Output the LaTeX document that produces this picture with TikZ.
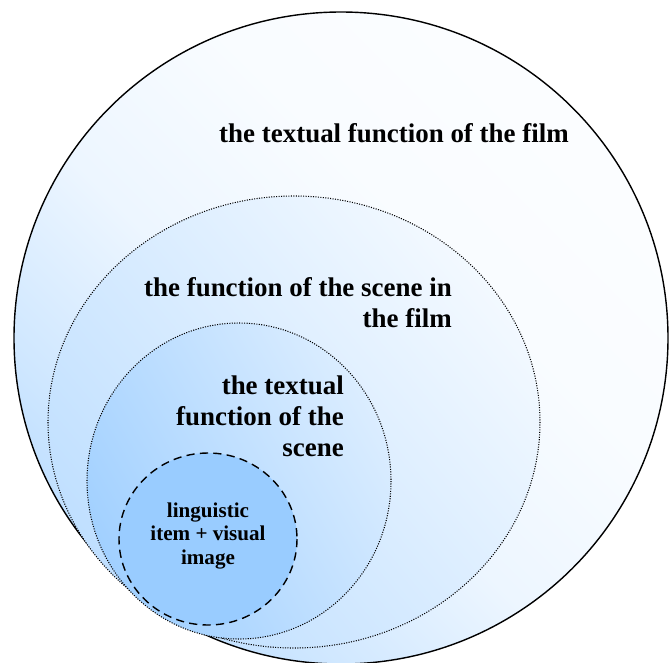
\documentclass[tikz,border=0pt]{standalone}
\usepackage{fontspec}
\setmainfont{Liberation Serif}
\usepackage{tikz}
\usetikzlibrary{shapes.geometric, positioning}
\definecolor{skyblue}{RGB}{153,204,255}
\pgfdeclareverticalshading{filmfade}{100bp}{color(0bp)=(skyblue); color(16bp)=(skyblue!85!white); color(31bp)=(skyblue!48!white); color(45bp)=(skyblue!18!white); color(60bp)=(skyblue!6!white); color(100bp)=(white)}
\tikzset{
    filmring/.style = {draw=black, line width=1.2pt, shade, shading=filmfade, shading angle=-45},
    scenering/.style = {draw=black, line width=0.9pt, dash pattern=on 0.9pt off 1.2pt, top color=skyblue!12!white, bottom color=skyblue!62!white, shading angle=-50},
    textring/.style = {draw=black, line width=0.9pt, dash pattern=on 0.9pt off 1.2pt, top color=skyblue!35!white, bottom color=skyblue!92!white, shading angle=-60},
    itemring/.style = {draw=black, line width=1.2pt, dash pattern=on 7pt off 4.5pt, fill=skyblue},
    biglabel/.style = {font=\fontsize{23}{26.5}\selectfont\bfseries, inner sep=0pt},
    smalllabel/.style = {font=\fontsize{18}{20}\selectfont\bfseries, inner sep=0pt, align=center}
}
\begin{document}
\begin{tikzpicture}[x=0.03cm, y=-0.03cm]
    \useasboundingbox (0,0) rectangle (670,662);
    \clip (0,0) rectangle (670,662);

    % Film
    \draw[filmring] (341,338) ellipse [x radius=327, y radius=326];

    % Scene in the film
    \draw[scenering] (294,422) ellipse [x radius=246, y radius=226];

    % Scene
    \draw[textring] (239,481) ellipse [x radius=152, y radius=158];

    % Item and image
    \draw[itemring] (208,539) ellipse [x radius=89, y radius=86];

    % Labels
    \node[biglabel] (film) at (394,133) {the textual function of the film};
    \node[biglabel, align=right, anchor=east] (scenefilm) at (452,303) {the function of the scene in\\the film};
    \node[biglabel, align=right, anchor=east] (scene) at (344,416) {the textual\\function of the\\scene};
    \node[smalllabel] (item) at (208,536) {linguistic\\item + visual\\image};
\end{tikzpicture}
\end{document}
